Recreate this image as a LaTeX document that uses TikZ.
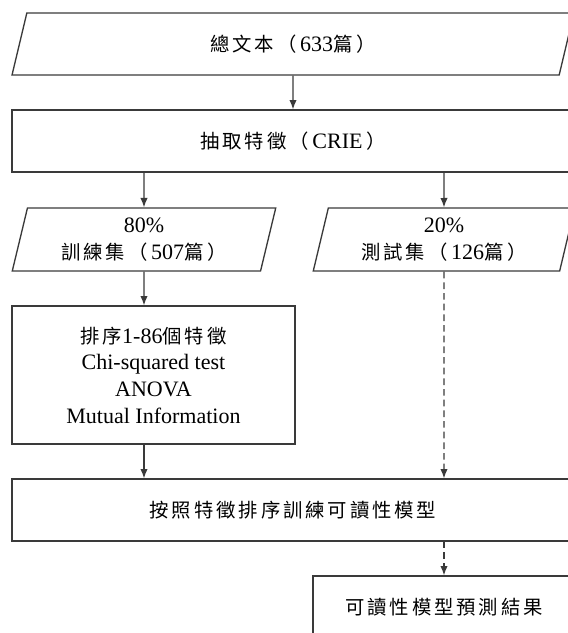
\documentclass[tikz,border=0pt]{standalone}
\usepackage{fontspec}
\setmainfont{Liberation Serif}
\newfontfamily\cjkfont[Scale=0.88,LetterSpace=15]{Noto Sans CJK TC}
\usepackage{xcolor}
\usepackage{tikz}
\usetikzlibrary{calc,shapes.geometric,arrows.meta}
\definecolor{edge}{HTML}{3A3A3A}
\newcommand{\zh}[1]{{\cjkfont #1}}
\tikzset{
  box/.style={draw=edge, line width=1pt, rectangle, inner sep=0pt, align=center,
    font=\fontsize{16.5}{20}\selectfont},
  io/.style={box, trapezium, trapezium left angle=76, trapezium right angle=104,
    trapezium stretches=true},
  arr/.style={draw=edge, line width=0.9pt, -{Latex[length=7pt,width=5.5pt]}},
  dasharr/.style={arr, dash pattern=on 5pt off 3pt},
}

\begin{document}
\begin{tikzpicture}[x=0.75pt,y=-0.75pt]
  \path[use as bounding box, clip] (0,0) rectangle (568,633);
  \node[io, minimum width=562*0.75pt, minimum height=62*0.75pt] (total) at (293,44) {\zh{總文本（}\,633\zh{篇}\,\zh{）}};
  \node[box, minimum width=562*0.75pt, minimum height=62*0.75pt] (crie) at (293,141) {\zh{抽取特徵（}\,CRIE\,\zh{）}};
  \node[io, minimum width=264*0.75pt, minimum height=63*0.75pt] (train) at (144,239.5) {80\%\\\zh{訓練集（}\,507\zh{篇}\,\zh{）}};
  \node[io, minimum width=262*0.75pt, minimum height=63*0.75pt] (test) at (444,239.5) {20\%\\\zh{測試集（}\,126\zh{篇}\,\zh{）}};
  \node[box, minimum width=283*0.75pt, minimum height=138*0.75pt] (rank) at (153.5,375) {\zh{排序}1-86\zh{個特徵}\\Chi-squared test\\ANOVA\\Mutual Information};
  \node[box, minimum width=562*0.75pt, minimum height=62*0.75pt] (model) at (293,510) {\zh{按照特徵排序訓練可讀性模型}};
  \node[box, minimum width=262*0.75pt, minimum height=62*0.75pt] (pred) at (444,607) {\zh{可讀性模型預測結果}};
  % connectors
  \draw[arr] (total.south) -- (crie.north);
  \draw[arr] (crie.south -| train) -- (train.north);
  \draw[arr] (crie.south -| test) -- (test.north);
  \draw[arr] (train.south) -- (train |- rank.north);
  \draw[arr] (train |- rank.south) -- (train |- model.north);
  \draw[dasharr] (test.south) -- (test |- model.north);
  \draw[dasharr] (model.south -| pred) -- (pred.north);
\end{tikzpicture}
\end{document}
